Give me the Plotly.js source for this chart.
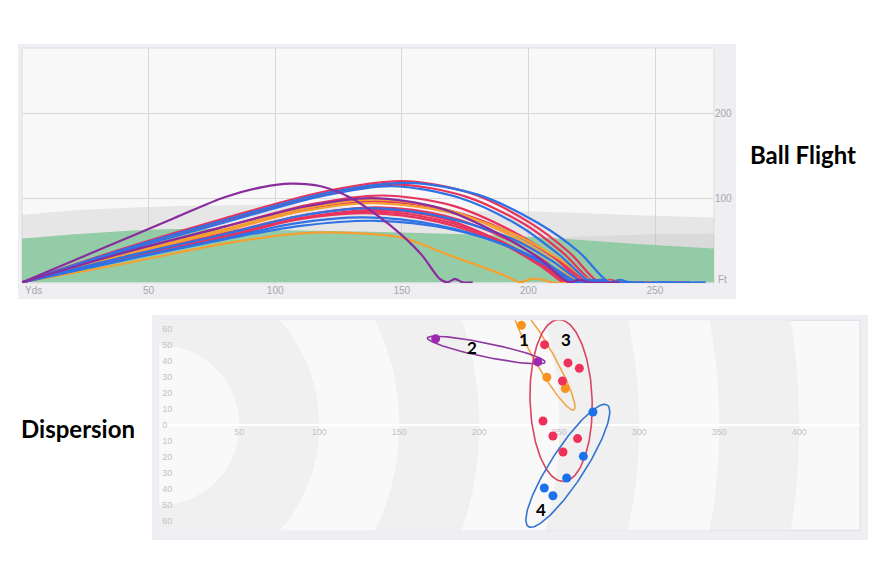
<!DOCTYPE html>
<html><head><meta charset="utf-8">
<script src="https://cdn.plot.ly/plotly-3.0.1.min.js"></script>
<style>html,body{margin:0;padding:0;background:#fff}#chart{width:876px;height:584px}</style>
</head><body><div id="chart"></div>
<script>
// ---------- Ball flight data (yards, feet) ----------
const flightTickYds = [50, 100, 150, 200, 250];
const flightTickFt = [100, 200];

const zoneGrayX = [0, 25, 50, 75, 100, 120, 140, 160, 200, 240, 273.3];
const zoneGrayTop = [80, 86, 89.5, 91, 92, 91, 86, 84.5, 84, 80, 77];
const zoneDarkX = [205, 230, 250, 273.3];
const zoneDarkTop = [53, 55, 57, 58];
const zoneGreenX = [0, 25, 50, 80, 100, 150, 200, 240, 273.3];
const zoneGreenTop = [52, 58, 62.5, 63.5, 62, 59, 54, 46, 40];

const redFlightX = [
  [0,40,80,120,150,177,201,216,228,232,236,262],
  [0,40,80,120,148,175,199,214,226,230,234,250],
  [0,40,80,115,142,170,194,210,222,226,230,245],
  [0,40,80,112,140,169,195,211,224,228,232,248],
  [0,40,80,112,140,167,191,206,218,222,226,242],
  [0,40,80,112,140,166,188,203,214,218,222,238],
  [0,40,80,110,138,165,189,204,216,220,224,240],
  [0,40,80,108,136,164,188,203,215,219,223,232]
];
const redFlightY = [
  [0,40,76,108,120,106,70,36,0,3,0,0],
  [0,39,73,104,116,102,68,34,0,3,0,0],
  [0,35,66,93,103,91,60,30,0,3,0,0],
  [0,33,62,86,96,85,56,28,0,3,0,0],
  [0,31,58,80,89,79,52,26,0,3,0,0],
  [0,30,56,77,86,76,50,25,0,3,0,0],
  [0,29,55,76,84,74,49,24,0,3,0,0],
  [0,28,53,74,82,72,48,23,0,3,0,0]
];
const orangeFlightX = [
  [0,40,80,112,140,168,192,208,220,224,228,240],
  [0,40,80,110,138,169,196,212,226,230,234,249],
  [0,40,80,110,125,150,168,181,190,197,201,206,209,228]
];
const orangeFlightY = [
  [0,34,63,88,98,86,57,29,0,3,0,0],
  [0,32,61,84,94,83,55,28,0,3,0,0],
  [0,22,46,58,59,53,33,19,9,0,4,3,0,0]
];
const blueFlightX = [
  [0,40,80,120,152,180,204,220,232,236,240,270],
  [0,40,80,118,146,173,197,212,225,229,233,258],
  [0,40,80,110,138,167,194,209,222,226,230,255],
  [0,40,80,108,135,164,190,206,218,222,226,246],
  [0,40,80,110,140,168,193,208,220,224,228,264]
];
const blueFlightY = [
  [0,39,74,106,118,104,70,36,0,3,0,0],
  [0,37,71,102,114,100,66,33,0,3,0,0],
  [0,30,57,79,88,77,51,26,0,3,0,0],
  [0,27,52,70,77,68,45,22,0,3,0,0],
  [0,26,51,67,73,64,42,21,0,3,0,0]
];
const purpleFlightX = [
  [0,40,80,112,138,165,188,204,216,220,224,236],
  [0,30,60,80,95,106,118,130,141,150,158,165,168,171,174,178]
];
const purpleFlightY = [
  [0,35,66,90,100,88,58,29,0,3,0,0],
  [0,38,76,101,113,117,114,100,78,56,32,4,0,4,0,0]
];

// ---------- Dispersion data (yards, offline) ----------
const dispTickYds = [50, 100, 150, 200, 250, 300, 350, 400];
const dispTickOff = [60, 50, 40, 30, 20, 10, 0, -10, -20, -30, -40, -50, -60];
const dispTickText = ['60','50','40','30','20','10','0','10','20','30','40','50','60'];
const ringRadii = [400, 350, 300, 250, 200, 150, 100, 50];

const orangeDispX = [226.3, 242.2, 253.7];
const orangeDispY = [62.5, 30, 23];
const purpleDispX = [172.7, 236.5];
const purpleDispY = [54, 39.6];
const redDispX = [240.8, 255.4, 262.5, 252, 239.8, 246, 261.4, 252.3];
const redDispY = [50.4, 39, 35.6, 27.7, 2.7, -6.7, -8.3, -16.7];
const blueDispX = [271, 265, 254.6, 240.6, 246];
const blueDispY = [8.3, -19.4, -32.9, -39.2, -44];

const groupLabels = ['1', '2', '3', '4'];
const groupLabelX = [228.0, 195.4, 254.2, 238.6];
const groupLabelY = [53.3, 48.3, 53.3, -52.3];
const ellipseCX = [239.9, 204.3, 251.1, 255.3];
const ellipseCY = [43.25, 47.0, 15.5, -25.3];
const ellipseA = [38.75, 37.55, 50.6, 45.3];
const ellipseB = [6.0, 4.3, 19.4, 10.6];
const ellipseAngle = [-60.3, -11.67, 91.75, 57];

// ---------- styling ----------
const W = 876, H = 584;
const PX = x => x / W, PY = y => 1 - y / H;
const C = {red:'#e8335c', orange:'#f4a032', blue:'#2f72e4', purple:'#8a2c9e'};
const groupColors = ['#f0a545', '#8e3a9e', '#d94462', '#3373d2'];
const FONT = 'Liberation Sans, Arial, sans-serif';

const traces = [];
traces.push({x: zoneGrayX, y: zoneGrayTop, type:'scatter', mode:'lines', fill:'tozeroy',
  fillcolor:'rgba(200,200,200,0.38)', line:{width:0, shape:'spline'}, hoverinfo:'skip', xaxis:'x', yaxis:'y'});
traces.push({x: zoneDarkX, y: zoneDarkTop, type:'scatter', mode:'lines', fill:'tozeroy',
  fillcolor:'rgba(170,170,170,0.2)', line:{width:0, shape:'spline'}, hoverinfo:'skip', xaxis:'x', yaxis:'y'});
traces.push({x: zoneGreenX, y: zoneGreenTop, type:'scatter', mode:'lines', fill:'tozeroy',
  fillcolor:'rgba(137,200,159,0.88)', line:{width:0, shape:'spline'}, hoverinfo:'skip', xaxis:'x', yaxis:'y'});

function addFlights(xs, ys, color) {
  xs.forEach((x, i) => traces.push({x: x, y: ys[i], type:'scatter', mode:'lines',
    line:{color: color, width: 2.2, shape:'spline', smoothing: 0.9}, hoverinfo:'skip', xaxis:'x', yaxis:'y'}));
}
addFlights(redFlightX, redFlightY, C.red);
addFlights(orangeFlightX, orangeFlightY, C.orange);
addFlights(blueFlightX, blueFlightY, C.blue);
addFlights(purpleFlightX, purpleFlightY, C.purple);

// ellipses around the shot groups
function ellipsePts(cx, cy, a, b, deg) {
  const t = deg * Math.PI / 180, xs = [], ys = [];
  for (let i = 0; i <= 160; i++) {
    const s = 2 * Math.PI * i / 160, u = a * Math.cos(s), v = b * Math.sin(s);
    xs.push(cx + u * Math.cos(t) - v * Math.sin(t));
    ys.push(cy + u * Math.sin(t) + v * Math.cos(t));
  }
  return [xs, ys];
}
ellipseCX.forEach((cx, i) => {
  const [xs, ys] = ellipsePts(cx, ellipseCY[i], ellipseA[i], ellipseB[i], ellipseAngle[i]);
  traces.push({x: xs, y: ys, type:'scatter', mode:'lines', line:{color: groupColors[i], width: 1.6},
    hoverinfo:'skip', xaxis:'x2', yaxis:'y2'});
});
function addDots(x, y, color) {
  traces.push({x: x, y: y, type:'scatter', mode:'markers', marker:{color: color, size: 9},
    hoverinfo:'skip', xaxis:'x2', yaxis:'y2'});
}
addDots(orangeDispX, orangeDispY, '#f7931e');
addDots(purpleDispX, purpleDispY, '#9c27b0');
addDots(redDispX, redDispY, '#ee3158');
addDots(blueDispX, blueDispY, '#1a73e8');

const shapes = [
  {type:'rect', xref:'paper', yref:'paper', x0:PX(18), x1:PX(736), y0:PY(299), y1:PY(44),
    fillcolor:'#eeeef3', line:{width:0}, layer:'below'},
  {type:'rect', xref:'paper', yref:'paper', x0:PX(22), x1:PX(714), y0:PY(283), y1:PY(48),
    fillcolor:'#f8f8f8', line:{width:1, color:'#dddde3'}, layer:'below'},
  {type:'rect', xref:'paper', yref:'paper', x0:PX(152), x1:PX(868), y0:PY(540), y1:PY(315),
    fillcolor:'#eeeef3', line:{width:0}, layer:'below'},
  {type:'rect', xref:'paper', yref:'paper', x0:PX(159.3), x1:PX(860), y0:PY(530.3), y1:PY(320.3),
    fillcolor:'#f9f9f9', line:{width:1, color:'#dddde3'}, layer:'below'}
];
ringRadii.forEach((r, i) => shapes.push({type:'circle', xref:'x2', yref:'y2', x0:-r, x1:r, y0:-r, y1:r,
  fillcolor: i % 2 === 0 ? '#f0f0f0' : '#f9f9f9', line:{width:0}, layer:'below'}));

const annotations = [
  {text:'<b>Ball Flight</b>', xref:'paper', yref:'paper', x:PX(803), y:PY(154), xanchor:'center', yanchor:'middle',
    showarrow:false, font:{family:'Lato, sans-serif', size:24, color:'#000'}},
  {text:'<b>Dispersion</b>', xref:'paper', yref:'paper', x:PX(78), y:PY(428), xanchor:'center', yanchor:'middle',
    showarrow:false, font:{family:'Lato, sans-serif', size:24, color:'#000'}},
  {text:'Yds', xref:'paper', yref:'paper', x:PX(23), y:PY(290), xanchor:'left', yanchor:'middle', showarrow:false,
    font:{family:FONT, size:10, color:'#a8a8a8'}},
  {text:'Ft', xref:'paper', yref:'paper', x:PX(716), y:PY(279), xanchor:'left', yanchor:'middle', showarrow:false,
    font:{family:FONT, size:10, color:'#a8a8a8'}}
];
groupLabels.forEach((t, i) => annotations.push({text:'<b>' + t + '</b>', xref:'x2', yref:'y2',
  x: groupLabelX[i], y: groupLabelY[i], xanchor:'center', yanchor:'middle', showarrow:false,
  font:{family:'Lato, sans-serif', size:17, color:'#000'}}));

const layout = {
  width: W, height: H, margin:{l:0, r:0, t:0, b:0}, showlegend:false,
  paper_bgcolor:'#ffffff', plot_bgcolor:'rgba(0,0,0,0)', font:{family:FONT},
  xaxis:{domain:[PX(22), PX(714)], range:[0, 273.3], anchor:'y', tickvals: flightTickYds,
    tickfont:{size:10, color:'#a8a8a8'}, showgrid:true, gridcolor:'#d8d8d8', zeroline:false, showline:false,
    ticks:'', fixedrange:true},
  yaxis:{domain:[PY(283), PY(48)], range:[-0.8, 278], anchor:'x', side:'right', tickvals: flightTickFt,
    tickfont:{size:10, color:'#a8a8a8'}, showgrid:true, gridcolor:'#d8d8d8', zeroline:false, showline:false,
    ticks:'', fixedrange:true},
  xaxis2:{domain:[PX(159.3), PX(860)], range:[0, 437.9], anchor:'free', position: PY(425.3), tickvals: dispTickYds,
    tickfont:{size:9, color:'#c2c2c2'}, showgrid:false, zeroline:false, showline:false, ticks:'',
    layer:'below traces', fixedrange:true},
  yaxis2:{domain:[PY(530.3), PY(320.3)], range:[-65.6, 65.6], anchor:'x2', tickvals: dispTickOff,
    ticktext: dispTickText, ticklabelposition:'inside', tickfont:{size:9, color:'#c2c2c2'},
    showgrid:false, zeroline:true, zerolinecolor:'#ffffff', zerolinewidth:2, showline:false, ticks:'',
    layer:'below traces', fixedrange:true},
  shapes: shapes, annotations: annotations
};
Plotly.newPlot('chart', traces, layout, {staticPlot:true, displayModeBar:false});
</script></body></html>
